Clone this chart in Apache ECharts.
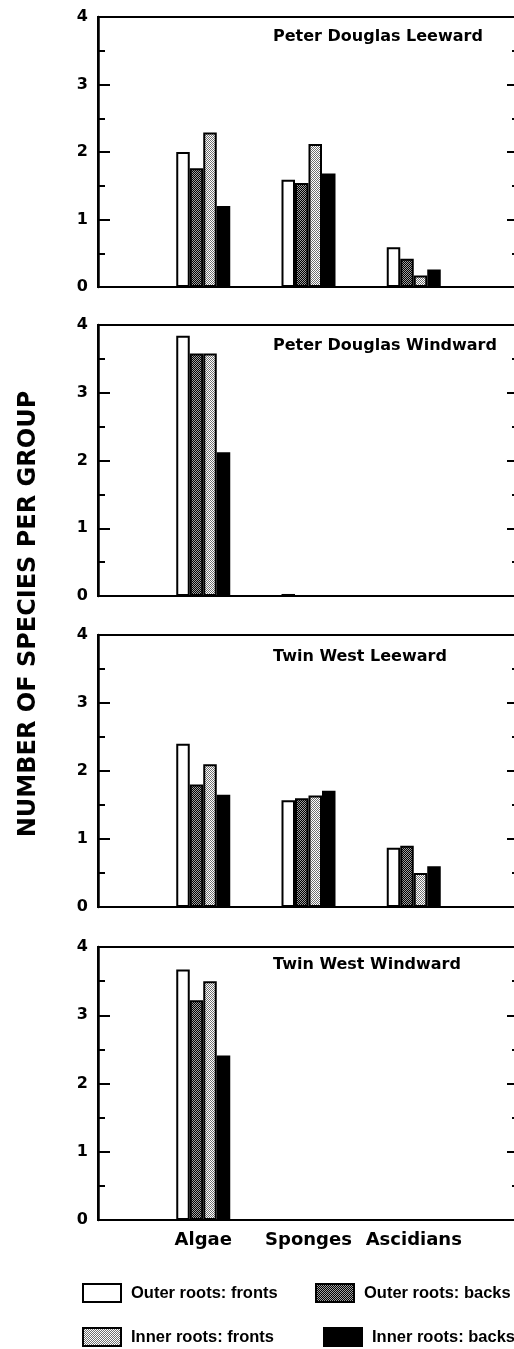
<!DOCTYPE html>
<html>
<head>
<meta charset="utf-8">
<script src="https://cdn.jsdelivr.net/npm/echarts/dist/echarts.min.js"></script>
<style>
html,body{margin:0;padding:0;background:#fff;}
#chart{width:514px;height:1349px;}
</style>
</head>
<body>
<div id="chart"></div>
<script>
// ---- Data ----
const categories = ['Algae', 'Sponges', 'Ascidians'];
const panelTitles = ['Peter Douglas Leeward', 'Peter Douglas Windward', 'Twin West Leeward', 'Twin West Windward'];
const seriesNames = ['Outer roots: fronts', 'Outer roots: backs', 'Inner roots: fronts', 'Inner roots: backs'];
const yTicks = [0, 1, 2, 3, 4];

// Peter Douglas Leeward
const pdlOuterFronts = [2.00, 1.59, 0.59];
const pdlOuterBacks  = [1.76, 1.54, 0.42];
const pdlInnerFronts = [2.29, 2.12, 0.17];
const pdlInnerBacks  = [1.20, 1.68, 0.26];
// Peter Douglas Windward
const pdwOuterFronts = [3.84, 0.03, 0];
const pdwOuterBacks  = [3.58, 0, 0];
const pdwInnerFronts = [3.58, 0, 0];
const pdwInnerBacks  = [2.12, 0, 0];
// Twin West Leeward
const twlOuterFronts = [2.40, 1.57, 0.87];
const twlOuterBacks  = [1.80, 1.60, 0.90];
const twlInnerFronts = [2.10, 1.64, 0.50];
const twlInnerBacks  = [1.65, 1.71, 0.60];
// Twin West Windward
const twwOuterFronts = [3.67, 0, 0];
const twwOuterBacks  = [3.22, 0, 0];
const twwInnerFronts = [3.50, 0, 0];
const twwInnerBacks  = [2.41, 0, 0];

const panelData = [
  [pdlOuterFronts, pdlOuterBacks, pdlInnerFronts, pdlInnerBacks],
  [pdwOuterFronts, pdwOuterBacks, pdwInnerFronts, pdwInnerBacks],
  [twlOuterFronts, twlOuterBacks, twlInnerFronts, twlInnerBacks],
  [twwOuterFronts, twwOuterBacks, twwInnerFronts, twwInnerBacks]
];

// ---- Styling ----
function makePattern(bg, fg) {
  const c = document.createElement('canvas');
  c.width = 2; c.height = 2;
  const ctx = c.getContext('2d');
  ctx.fillStyle = bg; ctx.fillRect(0, 0, 2, 2);
  ctx.fillStyle = fg; ctx.fillRect(0, 0, 1, 1); ctx.fillRect(1, 1, 1, 1);
  return c;
}
const fills = [
  '#ffffff',
  { image: makePattern('#000000', '#a0a0a0'), repeat: 'repeat' },
  { image: makePattern('#ffffff', '#707070'), repeat: 'repeat' },
  '#000000'
];

const gridTops = [17, 325, 635, 947];
const gridHeights = [270, 271, 272, 273];
const titleTops = [29, 338, 649, 957];
const FONT = 'DejaVu Sans';

const xCats = [''].concat(categories).concat(['']);

const grids = [], xAxes = [], yAxes = [], series = [], titles = [];
for (let p = 0; p < 4; p++) {
  grids.push({
    left: 98, width: 421, top: gridTops[p], height: gridHeights[p],
    outerBoundsMode: 'none', containLabel: false,
    show: true, borderColor: '#000', borderWidth: 2, backgroundColor: 'transparent'
  });
  xAxes.push({
    type: 'category', gridIndex: p, data: xCats, boundaryGap: false,
    axisLine: { show: true, lineStyle: { color: '#000', width: 2 } },
    axisTick: { show: false },
    axisLabel: {
      show: p === 3, interval: 0, margin: 11, color: '#000',
      fontFamily: FONT, fontWeight: 'bold', fontSize: 18
    },
    splitLine: { show: false }
  });
  const yBase = {
    type: 'value', gridIndex: p, min: 0, max: 4, interval: 1,
    splitLine: { show: false },
    minorTick: { show: true, splitNumber: 2, length: 7, lineStyle: { color: '#000', width: 2 } },
    axisTick: { show: true, inside: true, length: 12, lineStyle: { color: '#000', width: 2 } }
  };
  yAxes.push(Object.assign({}, yBase, {
    position: 'left',
    axisLine: { show: true, lineStyle: { color: '#000', width: 2.5 } },
    axisLabel: {
      show: true, margin: 10, color: '#000', fontFamily: FONT, fontWeight: 'bold', fontSize: 16,
      formatter: function (v) { return yTicks.indexOf(v) >= 0 ? String(v) : ''; }
    }
  }));
  yAxes.push(Object.assign({}, yBase, {
    position: 'right',
    axisLine: { show: true, lineStyle: { color: '#000', width: 2 } },
    axisLabel: { show: false }
  }));
  titles.push({
    text: panelTitles[p], left: 273, top: titleTops[p], padding: 0,
    textStyle: { fontFamily: FONT, fontWeight: 'bold', fontSize: 16, color: '#000' }
  });
  for (let s = 0; s < 4; s++) {
    series.push({
      type: 'bar', name: seriesNames[s],
      xAxisIndex: p, yAxisIndex: p * 2,
      data: [null].concat(panelData[p][s]).concat([null]),
      barWidth: 13.5, barGap: '0%',
      itemStyle: { color: fills[s], borderColor: '#000', borderWidth: 2 },
      silent: true
    });
  }
}

const legendPos = [[82, 1283], [315, 1283], [82, 1327], [323, 1327]];
const legends = seriesNames.map(function (name, i) {
  return {
    data: [name], left: legendPos[i][0], top: legendPos[i][1], padding: 0,
    orient: 'horizontal', icon: 'rect', itemWidth: 38, itemHeight: 18,
    selectedMode: false,
    textStyle: { fontFamily: 'Liberation Sans', fontWeight: 'bold', fontSize: 16.5, color: '#000', padding: [0, 0, 0, 5] }
  };
});

const chart = echarts.init(document.getElementById('chart'), null, { renderer: 'canvas' });
chart.setOption({
  animation: false,
  backgroundColor: '#ffffff',
  title: titles,
  grid: grids,
  xAxis: xAxes,
  yAxis: yAxes,
  legend: legends,
  series: series,
  graphic: [{
    type: 'text', x: 29, y: 614, rotation: Math.PI / 2,
    style: {
      text: 'NUMBER OF SPECIES PER GROUP', fill: '#000',
      font: 'bold 24px "DejaVu Sans"', align: 'center', verticalAlign: 'middle'
    }
  }]
});
</script>
</body>
</html>
